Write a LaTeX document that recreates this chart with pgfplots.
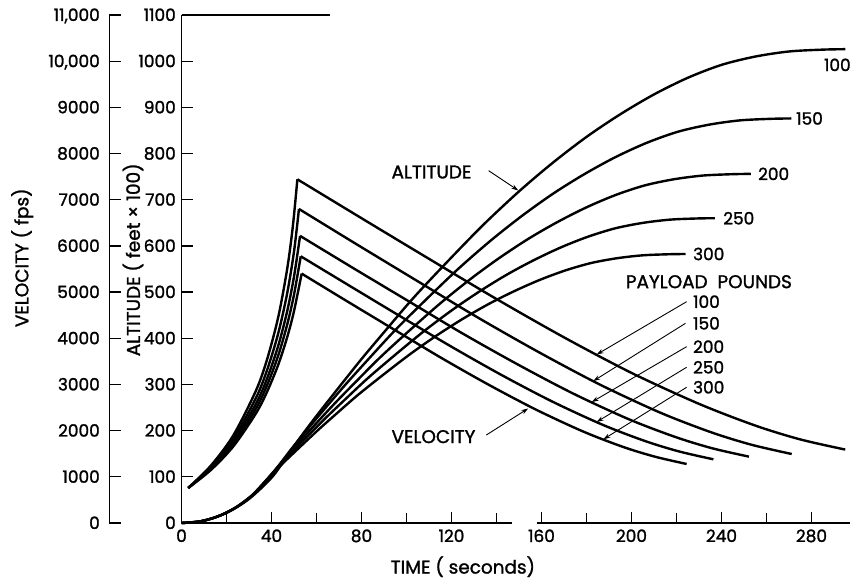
\documentclass[border=0pt]{standalone}
\usepackage{fontspec}
\setmainfont{Poppins}[UprightFeatures={FakeBold=1.4}]
\usepackage{pgfplots}
\pgfplotsset{compat=1.18}
\usetikzlibrary{arrows.meta}

\newcommand{\wordfont}{\fontsize{18.5}{20}\selectfont}
\begin{document}
\begin{tikzpicture}[font=\fontsize{17}{19}\selectfont]
% velocity axis, drawn further left, same time scale
\begin{axis}[
  at={(-72bp,0bp)}, anchor=south west,
  scale only axis, width=740.25bp, height=508bp,
  xmin=-32, xmax=297, ymin=0, ymax=11000,
  axis x line=none, axis y line*=left,
  axis line style={line width=1.8bp},
  ytick={0,1000,...,11000}, scaled y ticks=false,
  yticklabels={0,1000,2000,3000,4000,5000,6000,7000,8000,9000,{10,000},{11,000}},
  yticklabel style={inner sep=1bp, text height=12bp, text depth=0bp, xshift=-8.5bp},
  tick align=inside, major tick length=12bp,
  tick style={line width=1.3bp, black},
  ylabel={\wordfont VELOCITY ( fps)},
  ylabel style={at={(axis description cs:-0.118,0.522)}, anchor=center},
  clip=false,
]
% rise (burning) and fall of velocity, payload 100 .. 300 lb
\addplot[line width=2.4bp, smooth] coordinates {(3,760)(13,1239)(23,1895)(33,2856)(38,3536)(43,4459)(47,5510)(49.5,6431)(51.5,7442)};
\addplot[line width=2.4bp, smooth] coordinates {(51.5,7442)(80,6600)(110,5720)(140,4850)(170,4020)(200,3250)(230,2580)(255,2110)(275,1810)(295,1590)};
\addplot[line width=2.4bp, smooth] coordinates {(3,760)(13,1210)(23,1820)(33,2698)(38,3306)(43,4108)(47,4982)(50,5875)(52.2,6800)};
\addplot[line width=2.4bp, smooth] coordinates {(52.2,6800)(77.8,6036)(104.8,5240)(131.7,4449)(158.9,3696)(185.8,3001)(212.7,2391)(235.3,1966)(253.2,1696)(271.2,1494)};
\addplot[line width=2.4bp, smooth] coordinates {(3,760)(13,1185)(23,1758)(33,2571)(38,3123)(43,3838)(47,4593)(50,5335)(52.7,6217)};
\addplot[line width=2.4bp, smooth] coordinates {(52.7,6217)(76.0,5529)(100.6,4812)(125.1,4099)(149.9,3421)(174.4,2795)(198.9,2245)(219.5,1862)(235.8,1619)(252.2,1437)};
\addplot[line width=2.4bp, smooth] coordinates {(3,760)(13,1165)(23,1707)(33,2468)(38,2979)(43,3628)(47,4301)(50,4943)(53,5775)};
\addplot[line width=2.4bp, smooth] coordinates {(53,5775)(74.5,5142)(97.0,4483)(119.6,3828)(142.3,3203)(164.9,2627)(187.4,2122)(206.3,1770)(221.4,1546)(236.4,1379)};
\addplot[line width=2.4bp, smooth] coordinates {(3,760)(13,1145)(23,1657)(33,2367)(38,2838)(43,3428)(47,4028)(50,4588)(53.4,5400)};
\addplot[line width=2.4bp, smooth] coordinates {(53.4,5400)(73.4,4807)(94.5,4188)(115.5,3574)(136.7,2989)(157.8,2449)(178.8,1975)(196.4,1645)(210.5,1435)(224.5,1278)};

% payload arrows onto the velocity curves
\begin{scope}[-{Stealth[length=7bp,width=4.5bp]}, line width=0.9bp]
\draw (axis cs:224.5,4792) -- (axis cs:184.5,3648);
\draw (axis cs:224.0,4324) -- (axis cs:183.0,3073);
\draw (axis cs:224.5,3818) -- (axis cs:182.3,2618);
\draw (axis cs:224.5,3372) -- (axis cs:184.5,2187);
\draw (axis cs:224.5,2939) -- (axis cs:187.5,1812);
\draw (axis cs:135.5,1906) -- (axis cs:154.1,2480);
\end{scope}
\end{axis}

% altitude axis
\begin{axis}[
  at={(0bp,0bp)}, anchor=south west,
  scale only axis, width=668.25bp, height=508bp,
  xmin=0, xmax=297, ymin=0, ymax=1100,
  axis x line*=bottom, axis y line*=left,
  axis line style={line width=1.8bp},
  x axis line style={draw=none},
  xtick={0,40,...,280}, minor xtick={20,60,...,260},
  ytick={0,100,...,1100},
  tick align=inside, major tick length=11bp, minor tick length=10bp,
  tick style={line width=1.3bp, black},
  xticklabel style={yshift=-3bp},
  yticklabel style={inner sep=1bp, text height=12bp, text depth=0bp, xshift=-4.5bp},
  xlabel={\wordfont TIME ( seconds)},
  xlabel style={at={(axis description cs:0.421,-0.086)}, anchor=center},
  ylabel={\wordfont ALTITUDE ( feet × 100)},
  ylabel style={at={(axis description cs:-0.0726,0.518)}, anchor=center},
  /pgf/number format/assume math mode=true,
  /pgf/number format/1000 sep={},
  clip=false,
]
\draw[line width=1.8bp] (axis cs:0,0) -- (axis cs:147,0);
\draw[line width=1.8bp] (axis cs:158,0) -- (axis cs:297,0);
\draw[line width=1.8bp] (axis cs:0,1100) -- (axis cs:66,1100);

% altitude, payload 100 .. 300 lb
\addplot[line width=2.4bp, smooth] coordinates {(0,0)(10,5)(20,22)(30,52)(40,98)(46,138)(52,180)(60,232)(70,294)(80,355)(90,413)(103,487)(118,565)(134,645)(150,718)(165,780)(180,836)(195,885)(210,928)(225,964)(240,992)(255,1010)(270,1021)(285,1025)(295,1026)};
\addplot[line width=2.4bp, smooth] coordinates {(0,0)(9.19,4.27)(18.37,18.78)(27.56,44.40)(36.74,83.67)(42.26,117.82)(47.77,153.68)(55.12,198.08)(64.30,251.02)(73.49,303.10)(82.67,352.62)(94.62,415.80)(108.39,482.40)(123.09,550.70)(137.79,613.03)(151.57,665.96)(165.35,713.78)(179.13,755.61)(192.91,792.33)(206.69,823.06)(220.46,846.97)(234.24,862.34)(248.02,871.73)(261.80,875.15)(271.0,876.0)};
\addplot[line width=2.4bp, smooth] coordinates {(0,0)(8.58,3.68)(17.15,16.21)(25.73,38.31)(34.30,72.21)(39.45,101.68)(44.60,132.62)(51.46,170.94)(60.03,216.62)(68.61,261.56)(77.18,304.30)(88.33,358.82)(101.20,416.29)(114.92,475.24)(128.64,529.02)(141.50,574.70)(154.37,615.96)(167.23,652.07)(180.10,683.75)(192.96,710.28)(205.82,730.91)(218.69,744.17)(231.55,752.27)(244.42,755.22)(253.0,756.0)};
\addplot[line width=2.4bp, smooth] coordinates {(0,0)(8.03,3.22)(16.07,14.15)(24.10,33.45)(32.14,63.04)(36.96,88.78)(41.78,115.79)(48.20,149.25)(56.24,189.13)(64.27,228.37)(72.31,265.68)(82.75,313.29)(94.80,363.46)(107.66,414.93)(120.51,461.89)(132.56,501.77)(144.61,537.80)(156.66,569.32)(168.71,596.98)(180.77,620.14)(192.82,638.15)(204.87,649.73)(216.92,656.81)(228.97,659.38)(237.0,660.0)};
\addplot[line width=2.4bp, smooth] coordinates {(0,0)(7.59,2.84)(15.19,12.49)(22.78,29.52)(30.37,55.63)(34.93,78.34)(39.48,102.19)(45.56,131.71)(53.15,166.90)(60.74,201.53)(68.34,234.46)(78.21,276.47)(89.60,320.75)(101.75,366.17)(113.90,407.61)(125.28,442.81)(136.67,474.60)(148.06,502.41)(159.45,526.83)(170.84,547.26)(182.23,563.16)(193.62,573.38)(205.01,579.62)(216.40,581.89)(224.0,582.5)};

\node[font=\wordfont] at (axis cs:111.1,760) {ALTITUDE};
\draw[-{Stealth[length=7bp,width=4.5bp]}, line width=0.9bp] (axis cs:136.5,763) -- (axis cs:149.7,720);
\node[font=\wordfont] at (axis cs:112,187) {VELOCITY};
\node[font=\wordfont] at (axis cs:234.4,522.5) {PAYLOAD\ \ POUNDS};
\begin{scope}[every node/.style={anchor=west, inner sep=0pt}]
\node at (axis cs:227.3,479.2) {100};
\node at (axis cs:227.3,432.4) {150};
\node at (axis cs:227.3,381.8) {200};
\node at (axis cs:227.3,337.2) {250};
\node at (axis cs:227.3,293.9) {300};
\node at (axis cs:273.1,876) {150};
\node at (axis cs:256.2,756) {200};
\node at (axis cs:240.7,660) {250};
\node at (axis cs:227.3,582.5) {300};
\end{scope}
\node[anchor=east, inner sep=0pt] at (axis cs:297.5,992) {100};
\end{axis}
\pgfresetboundingbox
\path[use as bounding box] (-181.5bp,-60bp) rectangle (668.5bp,523bp);
\end{tikzpicture}
\end{document}
